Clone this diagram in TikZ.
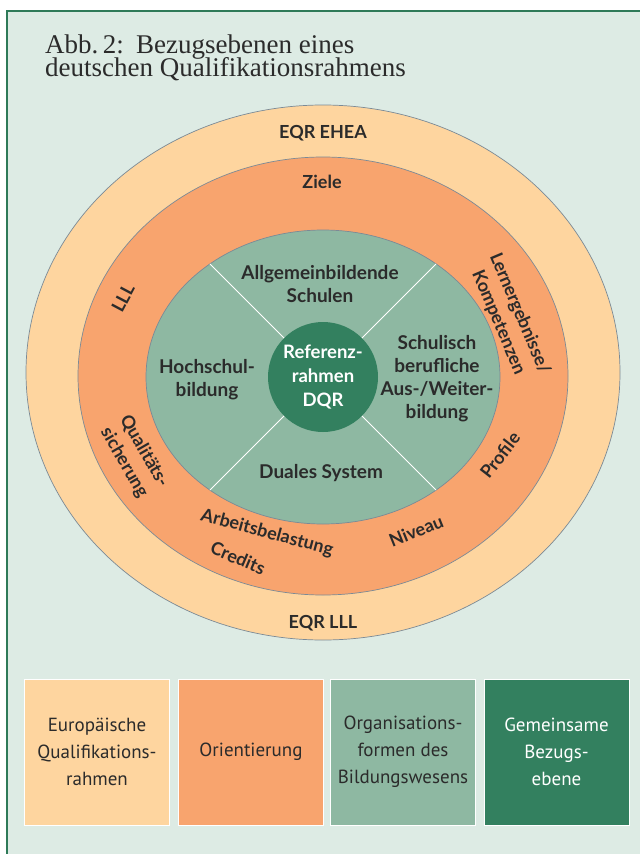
\documentclass[tikz,border=0pt]{standalone}
\usepackage{fontspec}
\setmainfont{Liberation Serif}
\newfontfamily\labfont{Lato}
\newfontfamily\legfont{PT Sans}
\usetikzlibrary{shapes.geometric}

\definecolor{bg}{HTML}{DDEBE4}
\definecolor{framegreen}{HTML}{2E7A58}
\definecolor{ringpeach}{HTML}{FED59F}
\definecolor{ringorange}{HTML}{F8A46E}
\definecolor{sage}{HTML}{8EB8A2}
\definecolor{deepgreen}{HTML}{33805F}
\definecolor{edgegray}{HTML}{7B8A96}
\definecolor{ink}{HTML}{2B2B2B}

% fixed baseline distance even for large type
\newcommand\titletype{\fontsize{27}{23}\selectfont\lineskiplimit=-100pt\relax}

\begin{document}
\begin{tikzpicture}[x=1pt,y=-1pt,
  ring/.style={ellipse, draw=edgegray, line width=0.7pt, inner sep=0pt, outer sep=0pt},
  lab/.style={font=\labfont\bfseries\fontsize{18}{23}\selectfont, text=ink, align=center, inner sep=0pt},
  seclab/.style={lab, font=\labfont\bfseries\fontsize{19}{23}\selectfont},
  legend/.style={rectangle, draw=white, line width=1pt, minimum width=145pt, minimum height=146pt,
    align=center, inner sep=0pt, font=\legfont\fontsize{19}{27}\selectfont, text=ink},
  divider/.style={draw=white, line width=0.8pt}]

% page and frame
\useasboundingbox (0,0) rectangle (640,854);
\fill[white] (0,0) rectangle (640,854);
\fill[bg] (7,11) rectangle (640,854);
\draw[framegreen, line width=1.6pt] (7,854) -- (7,11) -- (640,11);

% title (anchor sits on the baseline of the last line)
\node[anchor=base west, align=left, text=ink, inner sep=0pt, font=\titletype]
  (title) at (45,76) {Abb.\,2:\hspace{0.45em}Bezugsebenen eines\\deutschen Qualifikationsrahmens};

% nested levels
\node[ring, fill=ringpeach, minimum width=594pt, minimum height=535pt] (eqr) at (323,372.5) {};
\node[ring, fill=ringorange, minimum width=490pt, minimum height=438pt] (ori) at (323,376) {};
\node[ring, fill=sage, minimum width=354pt, minimum height=294pt] (org) at (323,377) {};
\node[circle, fill=deepgreen, minimum size=110pt, inner sep=0pt, outer sep=0pt,
  font=\labfont\bfseries\fontsize{18.5}{24}\selectfont, text=white, align=center]
  (dqr) at (323,377) {Referenz-\\rahmen\\DQR};

% sector dividers
\foreach \a in {45,135,225,315}
  \draw[divider] (dqr.\a) -- (org.\a);

% outer ring labels
\node[lab] (ehea) at (323,133) {EQR EHEA};
\node[lab] (eqrlll) at (323,623) {EQR LLL};

% orientation ring labels
\node[lab] (ziele) at (322,182) {Ziele};
\node[lab, rotate=62] (lll) at (123,298) {LLL};
\node[lab, rotate=-60] (qual) at (134,457) {Qualitäts-\\sicherung};
\node[lab, rotate=-67] (lern) at (509,318) {Lernergebnisse/\\Kompetenzen};
\node[lab, rotate=52] (profile) at (500,455) {Profile};
\node[lab, rotate=22] (niveau) at (416,531) {Niveau};
\node[lab, rotate=-15] (arbeit) at (267,533) {Arbeitsbelastung};
\node[lab, rotate=-23] (credits) at (238,558) {Credits};

% sector labels
\node[seclab] (allg) at (320,284) {Allgemeinbildende\\Schulen};
\node[seclab] (hoch) at (207,380) {Hochschul-\\bildung};
\node[seclab] (schul) at (437,379) {Schulisch\\berufliche\\Aus-/Weiter-\\bildung};
\node[seclab] (dual) at (321,473) {Duales System};

% legend
\node[legend, fill=ringpeach] (leg1) at (97,752) {Europäische\\Qualifikations-\\rahmen};
\node[legend, fill=ringorange] (leg2) at (251,752) {Orientierung};
\node[legend, fill=sage] (leg3) at (403,752) {Organisations-\\formen des\\Bildungswesens};
\node[legend, fill=deepgreen, text=white] (leg4) at (556.5,752) {Gemeinsame\\Bezugs-\\ebene};
\end{tikzpicture}
\end{document}
